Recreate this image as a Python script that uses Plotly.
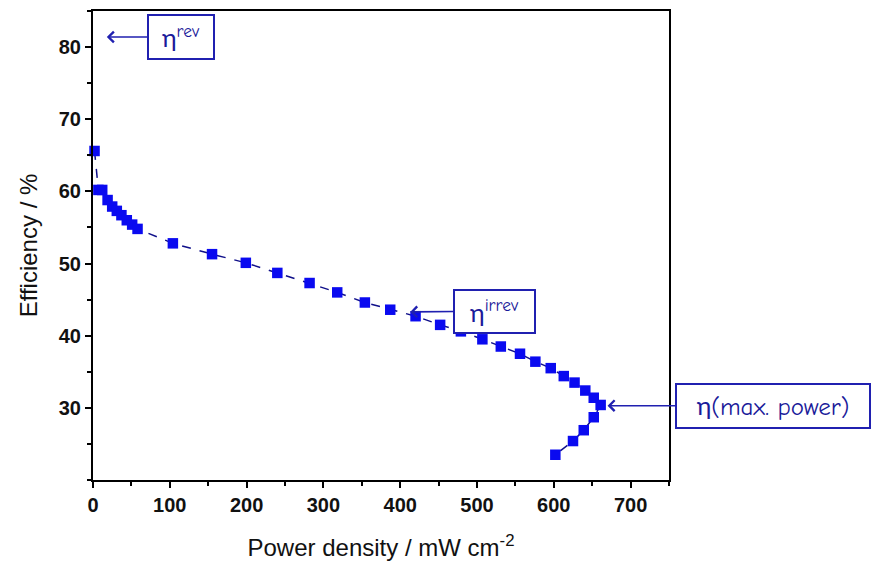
import plotly.graph_objects as go

power_density = [2, 7, 12, 19, 25, 31, 37, 44, 51, 58, 104, 155, 199, 240, 282, 318, 354, 387,
                 420, 452, 479, 507, 531, 556, 576, 596, 613, 627, 641, 652, 661, 652, 639, 625, 602]
efficiency = [65.6, 60.2, 60.2, 58.8, 57.9, 57.3, 56.7, 56.0, 55.4, 54.8, 52.8, 51.3, 50.1, 48.7,
              47.3, 46.0, 44.6, 43.6, 42.7, 41.5, 40.6, 39.5, 38.5, 37.5, 36.4, 35.5, 34.4, 33.5,
              32.4, 31.4, 30.4, 28.7, 26.9, 25.4, 23.5]

x_ticks = [0, 100, 200, 300, 400, 500, 600, 700]
y_ticks = [30, 40, 50, 60, 70, 80]

# annotations: (label, arrow tip x, arrow tip y, box centre x, box centre y, box w, box h)
ann_labels = ["η<sup>rev</sup>", "η<sup>irrev</sup>", "η(max. power)"]
ann_tip_x = [18, 413, 670]
ann_tip_y = [81.4, 43.3, 30.3]
ann_box_x = [115, 523, 886]
ann_box_y = [81.4, 43.4, 30.3]
ann_w = [56, 71, 184]
ann_h = [34, 33, 34]

fig = go.Figure()
fig.add_trace(go.Scatter(
    x=power_density, y=efficiency, mode="lines+markers",
    line=dict(color="#10108a", width=1.5, dash="dash"),
    marker=dict(symbol="square", size=10.5, color="#0a0af0", line=dict(width=0)),
    cliponaxis=False, showlegend=False,
))

ann_font = dict(family="Comic Sans MS, Comic Neue, Lato, sans-serif", size=25, color="#1a1a9a")
for lab, tx, ty, bx, by, w, h in zip(ann_labels, ann_tip_x, ann_tip_y, ann_box_x, ann_box_y, ann_w, ann_h):
    fig.add_annotation(
        x=tx, y=ty, xref="x", yref="y", ax=bx, ay=by, axref="x", ayref="y",
        text=lab, showarrow=True, arrowhead=4, arrowsize=1.3, arrowwidth=1.6,
        arrowcolor="#2020b0", font=ann_font, bordercolor="#2020b0", borderwidth=2,
        borderpad=4, width=w, height=h, bgcolor="white", align="center", valign="middle",
    )

axis_common = dict(
    showline=True, linecolor="black", linewidth=2, mirror=True, ticks="outside",
    ticklen=6, tickwidth=1.5, tickcolor="black", showgrid=False, zeroline=False,
    tickfont=dict(family="Liberation Sans, Arial, sans-serif", size=20, color="#111"),
    title_font=dict(family="Liberation Sans, Arial, sans-serif", size=24, color="#111"),
)

fig.update_xaxes(range=[0, 750], tickvals=x_ticks, ticktext=[f"<b>{v}</b>" for v in x_ticks],
                 minor=dict(dtick=50, ticks="outside", ticklen=4, tickwidth=1.5, tickcolor="black"),
                 title_text="Power density / mW cm<sup>-2</sup>", title_standoff=24, **axis_common)
fig.update_yaxes(range=[20, 85], tickvals=y_ticks, ticktext=[f"<b>{v}</b>" for v in y_ticks],
                 minor=dict(dtick=5, ticks="outside", ticklen=4, tickwidth=1.5, tickcolor="black"),
                 title_text="Efficiency / %", title_standoff=14, **axis_common)

fig.update_layout(
    width=873, height=568, margin=dict(l=93, r=204, t=11, b=88, autoexpand=False),
    plot_bgcolor="white", paper_bgcolor="white",
)

fig.write_html("out.html", config={"displayModeBar": False},
               post_script="document.body.style.margin='0';")
